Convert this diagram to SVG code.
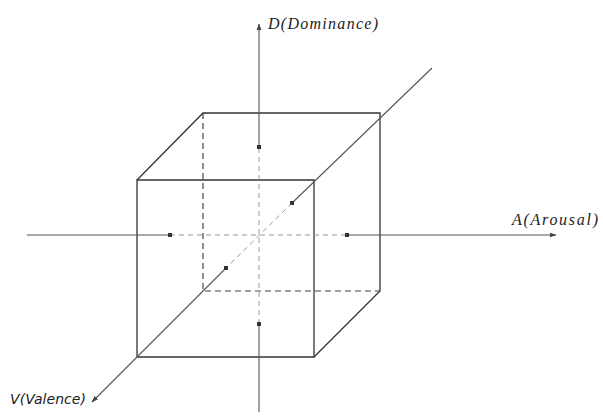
<svg xmlns="http://www.w3.org/2000/svg" width="603" height="420" viewBox="0 0 603 420">
<defs>
<style>
.axis{stroke:#555;stroke-width:1.1;fill:none}
.edge{stroke:#333;stroke-width:1.3;fill:none}
.hid{stroke:#444;stroke-width:1.2;fill:none;stroke-dasharray:6 4}
.inner{stroke:#999;stroke-width:1;fill:none;stroke-dasharray:5 4}
.dot{fill:#333}
.math{font-family:"Liberation Serif",serif;font-style:italic;font-size:16px;fill:#222}
.lab{font-family:"DejaVu Sans","Liberation Sans",sans-serif;font-style:italic;font-size:14px;fill:#222}
</style>
<marker id="ah" viewBox="0 0 10 10" refX="9" refY="5" markerWidth="7" markerHeight="7" markerUnits="userSpaceOnUse" orient="auto">
<path d="M0,1.5 L10,5 L0,8.5 z" fill="#444"/>
</marker>
</defs>
<rect width="603" height="420" fill="#fff"/>
<g id="cube">
<path class="hid" d="M203,113 V291 H380"/>
<path class="edge" d="M137,180 H314 V357 H137 Z"/>
<path class="edge" d="M137,180 L203,113 H380 V291 L314,357"/>
</g>
<g id="connectors">
<line class="axis" x1="259" y1="412" x2="259" y2="324"/>
<line class="inner" x1="259" y1="324" x2="259" y2="147"/>
<line class="axis" x1="259" y1="147" x2="259" y2="24" marker-end="url(#ah)"/>
<line class="axis" x1="27" y1="235" x2="170" y2="235"/>
<line class="inner" x1="170" y1="235" x2="347" y2="235"/>
<line class="axis" x1="347" y1="235" x2="556" y2="235" marker-end="url(#ah)"/>
<line class="axis" x1="432" y1="68" x2="292" y2="203"/>
<line class="inner" x1="292" y1="203" x2="226" y2="268"/>
<line class="axis" x1="226" y1="268" x2="92" y2="402" marker-end="url(#ah)"/>
</g>
<g id="dots">
<rect class="dot" x="257" y="145" width="4" height="4"/>
<rect class="dot" x="257" y="322" width="4" height="4"/>
<rect class="dot" x="168" y="233" width="4" height="4"/>
<rect class="dot" x="345" y="233" width="4" height="4"/>
<rect class="dot" x="290" y="201" width="4" height="4"/>
<rect class="dot" x="224" y="266" width="4" height="4"/>
</g>
<g id="label-d"><text class="math" x="268" y="29" textLength="110" lengthAdjust="spacing">D(Dominance)</text></g>
<g id="label-a"><text class="math" x="512" y="225" textLength="86" lengthAdjust="spacing">A(Arousal)</text></g>
<g id="label-v"><text class="lab" x="10" y="404" textLength="76" lengthAdjust="spacing">V(Valence)</text></g>
</svg>
